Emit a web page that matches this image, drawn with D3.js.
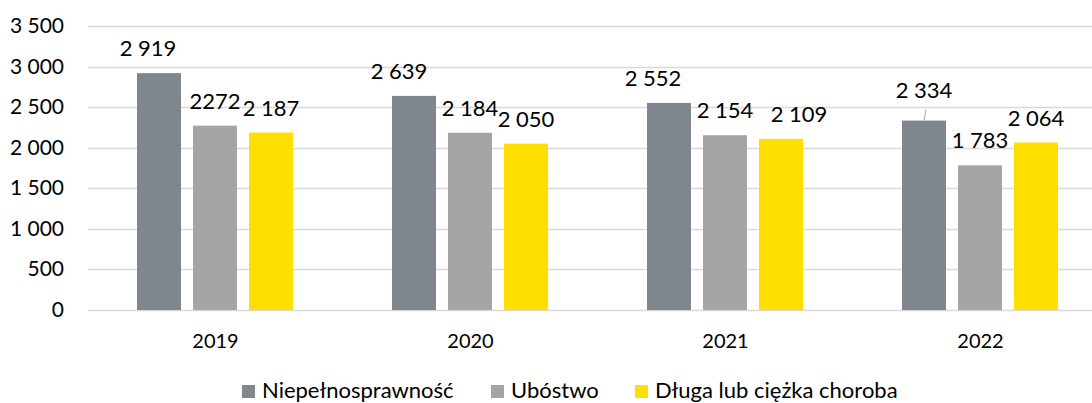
<!DOCTYPE html>
<html>
<head>
<meta charset="utf-8">
<script src="https://cdn.jsdelivr.net/npm/d3@7"></script>
<style>
  body { margin: 0; background: #fff; }
  text { font-family: Lato, "Open Sans", sans-serif; fill: #000; }
</style>
</head>
<body>
<div id="chart"></div>
<script>
var years = ["2019", "2020", "2021", "2022"];

var series = ["Niepełnosprawność", "Ubóstwo", "Długa lub ciężka choroba"];

var niepelnosprawnosc = [2919, 2639, 2552, 2334];
var ubostwo = [2272, 2184, 2154, 1783];
var choroba = [2187, 2050, 2109, 2064];

var labelNiep = ["2 919", "2 639", "2 552", "2 334"];
var labelUbos = ["2272", "2 184", "2 154", "1 783"];
var labelChor = ["2 187", "2 050", "2 109", "2 064"];

var yTicks = [0, 500, 1000, 1500, 2000, 2500, 3000, 3500];
var yTickLabels = ["0", "500", "1 000", "1 500", "2 000", "2 500", "3 000", "3 500"];

var colors = ["#7f868d", "#a5a5a5", "#ffdf00"];

var width = 1092, height = 403;

var values = [niepelnosprawnosc, ubostwo, choroba];
var labels = [labelNiep, labelUbos, labelChor];

// manual label shifts (as dragged in the original)
var nudge = [[-11, -15, -16, 0], [0, 0, 0, 0], [0, 0, 18, 0]];

var svg = d3.select("#chart").append("svg")
    .attr("width", width)
    .attr("height", height);

var y = d3.scaleLinear()
    .domain([0, 3500])
    .range([310, 26]);

var x0 = d3.scaleBand()
    .domain(years)
    .range([88, 1108]);

var x1 = d3.scaleBand()
    .domain(series)
    .range([43, 211])
    .paddingInner(12 / 56)
    .paddingOuter(6 / 56);

// grid
svg.append("g").selectAll("line")
    .data(yTicks)
    .enter().append("line")
    .attr("x1", 88)
    .attr("x2", width)
    .attr("y1", function(d){ return Math.round(y(d)) + 0.5; })
    .attr("y2", function(d){ return Math.round(y(d)) + 0.5; })
    .attr("stroke", "#d9d9d9")
    .attr("stroke-width", 1.5);

// y labels
svg.append("g").selectAll("text")
    .data(yTicks)
    .enter().append("text")
    .attr("x", 64)
    .attr("y", function(d){ return y(d) + 7; })
    .attr("text-anchor", "end")
    .attr("font-size", "21px")
    .text(function(d, i){ return yTickLabels[i]; });

// bars
series.forEach(function(s, si) {
    var g = svg.append("g");
    g.selectAll("rect")
        .data(values[si])
        .enter().append("rect")
        .attr("x", function(d, i){ return x0(years[i]) + x1(s); })
        .attr("y", function(d){ return y(d); })
        .attr("width", x1.bandwidth())
        .attr("height", function(d){ return y(0) - y(d); })
        .attr("fill", colors[si]);

    g.selectAll("text")
        .data(values[si])
        .enter().append("text")
        .attr("x", function(d, i){ return x0(years[i]) + x1(s) + x1.bandwidth() / 2 + nudge[si][i]; })
        .attr("y", function(d, i){
            if (si == 0 && i == 3) return y(d) - 23;
            return y(d) - 17;
        })
        .attr("text-anchor", "middle")
        .attr("font-size", "22px")
        .text(function(d, i){ return labels[si][i]; });
});

// leader line for 2022 label
var lx = x0("2022") + x1(series[0]) + x1.bandwidth() / 2;
svg.append("line")
    .attr("x1", lx)
    .attr("x2", lx + 2)
    .attr("y1", y(niepelnosprawnosc[3]))
    .attr("y2", y(niepelnosprawnosc[3]) - 11)
    .attr("stroke", "#a5a5a5")
    .attr("stroke-width", 1);

// x labels
svg.append("g").selectAll("text")
    .data(years)
    .enter().append("text")
    .attr("x", function(d){ return x0(d) + x0.bandwidth() / 2; })
    .attr("y", 348)
    .attr("text-anchor", "middle")
    .attr("font-size", "20px")
    .text(function(d){ return d; });

// legend
var legX = [242, 491, 635];
var leg = svg.append("g");
series.forEach(function(s, i) {
    leg.append("rect")
        .attr("x", legX[i])
        .attr("y", 385)
        .attr("width", 13)
        .attr("height", 13)
        .attr("fill", colors[i]);
    leg.append("text")
        .attr("x", legX[i] + 20)
        .attr("y", 398)
        .attr("font-size", "22px")
        .text(s);
});
</script>
</body>
</html>
